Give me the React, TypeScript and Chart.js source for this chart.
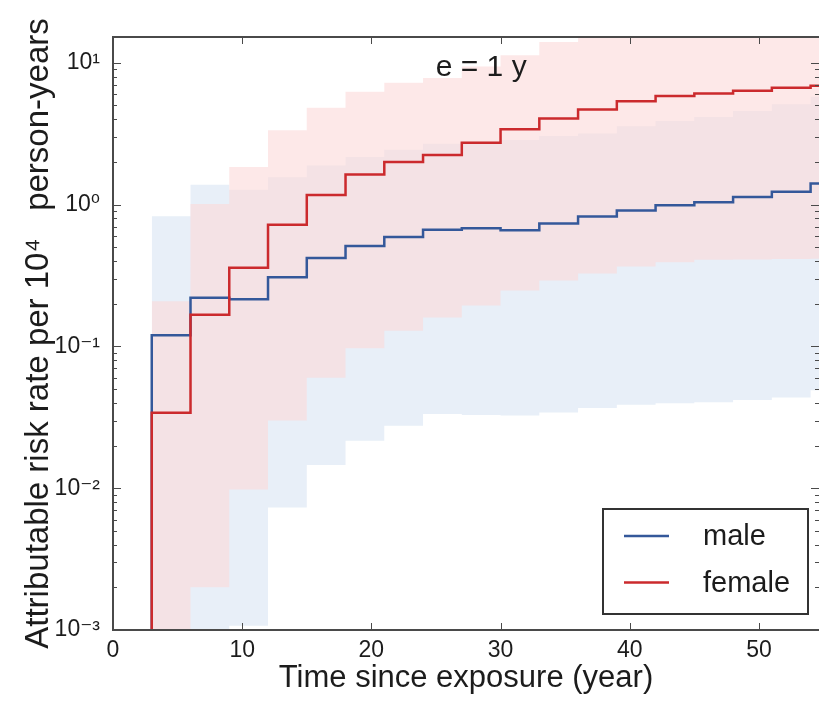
import React, { useEffect, useRef } from 'react';
import { Chart, registerables } from 'chart.js';

Chart.register(...registerables);

// ---- data ----
const STEP_STARTS = [3, 6, 9, 12, 15, 18, 21, 24, 27, 30, 33, 36, 39, 42, 45, 48, 51, 54];
const STEP_END = 57;
const RATE_BEFORE_ONSET = 1e-5;

const MALE_RATE = [0.12, 0.22, 0.215, 0.307, 0.42, 0.51, 0.59, 0.665, 0.68, 0.66, 0.735, 0.825, 0.91, 0.99, 1.04, 1.13, 1.23, 1.41];
const MALE_LOWER = [0.0001, 0.0001, 0.00107, 0.0073, 0.0146, 0.0216, 0.0276, 0.0333, 0.0328, 0.0326, 0.0342, 0.0367, 0.0387, 0.0398, 0.0404, 0.0418, 0.0436, 0.049];
const MALE_UPPER = [0.826, 1.38, 1.27, 1.56, 1.89, 2.17, 2.44, 2.69, 2.78, 2.85, 3.05, 3.17, 3.57, 3.89, 4.15, 4.58, 5.11, 5.75];

const FEMALE_RATE = [0.034, 0.167, 0.358, 0.72, 1.17, 1.63, 2.0, 2.24, 2.73, 3.4, 4.05, 4.69, 5.36, 5.83, 6.08, 6.34, 6.66, 6.88];
const FEMALE_LOWER = [0.0001, 0.002, 0.0098, 0.03, 0.06, 0.097, 0.129, 0.16, 0.194, 0.248, 0.291, 0.327, 0.366, 0.392, 0.408, 0.41, 0.413, 0.415];
const FEMALE_UPPER = [0.208, 1.01, 1.84, 3.34, 4.82, 6.24, 7.23, 7.8, 9.4, 11.3, 14.0, 16, 18, 19.5, 21, 22, 23, 24];

const SERIES_LABELS = ['male', 'female'];
const X_TICKS = [0, 10, 20, 30, 40, 50];
const Y_TICKS = [0.001, 0.01, 0.1, 1, 10];
const Y_TICK_LABELS = ['10\u207B\u00B3', '10\u207B\u00B2', '10\u207B\u00B9', '10\u2070', '10\u00B9'];
const MINOR_MULTIPLIERS = [2, 3, 4, 5, 6, 7, 8, 9];
const X_TITLE = 'Time since exposure (year)';
const Y_TITLE = 'Attributable risk rate per 10\u2074   person-years';
const ANNOTATION = 'e = 1 y';
const ANNOT_X = 28.5;
const ANNOT_Y = 9.2;

const X_MIN = 0;
const X_MAX = 54.65;
const Y_MIN = 0.001;
const Y_MAX = 15.2;

// ---- style ----
const FONT = "'Liberation Sans', Arial, Helvetica, 'DejaVu Sans', sans-serif";
const TEXT = '#1c1c1c';
const AXIS = '#4a4a4a';
const MALE_COLOR = '#34589a';
const FEMALE_COLOR = '#cb2a2d';
const MALE_FILL = 'rgb(232,239,248)';
const FEMALE_FILL = 'rgba(252,217,217,0.6)';

const stepPoints = (vals: number[]) => [
  ...STEP_STARTS.map((t, i) => ({ x: t, y: vals[i] })),
  { x: STEP_END, y: vals[vals.length - 1] },
];
const linePoints = (vals: number[]) => [{ x: STEP_STARTS[0], y: RATE_BEFORE_ONSET }, ...stepPoints(vals)];

const decorPlugin = {
  id: 'decor',
  afterDatasetsDraw(chart: any) {
    const { ctx, chartArea } = chart;
    const { left, right, top, bottom } = chartArea;
    const xs = chart.scales.x;
    const ys = chart.scales.y;
    const seg = (x1: number, y1: number, x2: number, y2: number) => {
      ctx.beginPath();
      ctx.moveTo(x1, y1);
      ctx.lineTo(x2, y2);
      ctx.stroke();
    };
    ctx.save();
    // inward tick marks
    ctx.strokeStyle = AXIS;
    ctx.lineWidth = 1;
    X_TICKS.forEach((v) => {
      const px = Math.round(xs.getPixelForValue(v)) + 0.5;
      seg(px, bottom, px, bottom - 7);
      seg(px, top, px, top + 7);
    });
    Y_TICKS.forEach((d) => {
      const py = Math.round(ys.getPixelForValue(d)) + 0.5;
      seg(left, py, left + 8, py);
      seg(right, py, right - 8, py);
      MINOR_MULTIPLIERS.forEach((m) => {
        const v = d * m;
        if (v > Y_MAX) return;
        const pm = Math.round(ys.getPixelForValue(v)) + 0.5;
        seg(left, pm, left + 4, pm);
        seg(right, pm, right - 4, pm);
      });
    });
    // spines
    ctx.lineWidth = 2;
    seg(left, top, left, bottom);
    seg(left - 1, bottom, right, bottom);
    seg(left - 1, top, right, top);

    // annotation
    ctx.fillStyle = TEXT;
    ctx.font = `30px ${FONT}`;
    ctx.textAlign = 'center';
    ctx.textBaseline = 'middle';
    ctx.fillText(ANNOTATION, xs.getPixelForValue(ANNOT_X), ys.getPixelForValue(ANNOT_Y));

    // legend
    const bw = 205, bh = 105;
    const bx = right - 11 - bw;
    const by = bottom - 16 - bh;
    ctx.fillStyle = '#ffffff';
    ctx.fillRect(bx, by, bw, bh);
    ctx.strokeStyle = '#333333';
    ctx.lineWidth = 2;
    ctx.strokeRect(bx, by, bw, bh);
    const colors = [MALE_COLOR, FEMALE_COLOR];
    SERIES_LABELS.forEach((lab, i) => {
      const cy = by + 27 + i * 46.5;
      ctx.strokeStyle = colors[i];
      ctx.lineWidth = 2.5;
      seg(bx + 21, cy, bx + 66, cy);
      ctx.fillStyle = TEXT;
      ctx.font = `29px ${FONT}`;
      ctx.textAlign = 'left';
      ctx.textBaseline = 'middle';
      ctx.fillText(lab, bx + 100, cy + 1);
    });
    ctx.restore();
  },
};

export default function App() {
  const ref = useRef<HTMLCanvasElement | null>(null);
  useEffect(() => {
    if (!ref.current) return;
    const band = (vals: number[], fill: string | false, bg: string) => ({
      data: stepPoints(vals),
      stepped: 'before' as const,
      borderWidth: 0,
      borderColor: 'rgba(0,0,0,0)',
      pointRadius: 0,
      fill,
      backgroundColor: bg,
    });
    const chart = new Chart(ref.current, {
      type: 'line',
      data: {
        datasets: [
          {
            label: SERIES_LABELS[1],
            data: linePoints(FEMALE_RATE),
            stepped: 'before',
            borderColor: FEMALE_COLOR,
            borderWidth: 2.5,
            pointRadius: 0,
            fill: false,
          },
          {
            label: SERIES_LABELS[0],
            data: linePoints(MALE_RATE),
            stepped: 'before',
            borderColor: MALE_COLOR,
            borderWidth: 2.5,
            pointRadius: 0,
            fill: false,
          },
          { label: 'female upper', ...band(FEMALE_UPPER, '+1', FEMALE_FILL) },
          { label: 'female lower', ...band(FEMALE_LOWER, false, 'rgba(0,0,0,0)') },
          { label: 'male upper', ...band(MALE_UPPER, '+1', MALE_FILL) },
          { label: 'male lower', ...band(MALE_LOWER, false, 'rgba(0,0,0,0)') },
        ] as any,
      },
      options: {
        animation: false,
        responsive: false,
        devicePixelRatio: 1,
        events: [],
        layout: { padding: { top: 37, left: 0, right: 0, bottom: 0 } },
        plugins: {
          legend: { display: false },
          tooltip: { enabled: false },
          filler: { propagate: false },
        },
        scales: {
          x: {
            type: 'linear',
            min: X_MIN,
            max: X_MAX,
            grid: { display: false, drawTicks: false },
            border: { display: false },
            afterBuildTicks: (s: any) => {
              s.ticks = X_TICKS.map((v) => ({ value: v }));
            },
            afterFit: (s: any) => {
              s.height = 75;
            },
            ticks: {
              autoSkip: false,
              maxRotation: 0,
              padding: 7,
              color: TEXT,
              font: { family: FONT, size: 23 },
              callback: (v: any) => String(v),
            },
            title: {
              display: true,
              text: X_TITLE,
              color: TEXT,
              font: { family: FONT, size: 31 },
              padding: { top: 0, bottom: 8 },
            },
          },
          y: {
            type: 'logarithmic',
            min: Y_MIN,
            max: Y_MAX,
            grid: { display: false, drawTicks: false },
            border: { display: false },
            afterBuildTicks: (s: any) => {
              s.ticks = Y_TICKS.map((v) => ({ value: v }));
            },
            afterFit: (s: any) => {
              s.width = 113;
            },
            ticks: {
              autoSkip: false,
              padding: 13,
              color: TEXT,
              font: { family: FONT, size: 23 },
              callback: (_v: any, i: number) => Y_TICK_LABELS[i],
            },
            title: {
              display: true,
              text: Y_TITLE,
              color: TEXT,
              font: { family: FONT, size: 33 },
              padding: { top: 19, bottom: 0 },
            },
          },
        },
      } as any,
      plugins: [decorPlugin],
    });
    return () => chart.destroy();
  }, []);
  return (
    <div style={{ position: 'fixed', left: 0, top: 0, width: 819, height: 705, background: '#fff' }}>
      <canvas ref={ref} width={819} height={705} style={{ display: 'block', width: 819, height: 705 }} />
    </div>
  );
}
